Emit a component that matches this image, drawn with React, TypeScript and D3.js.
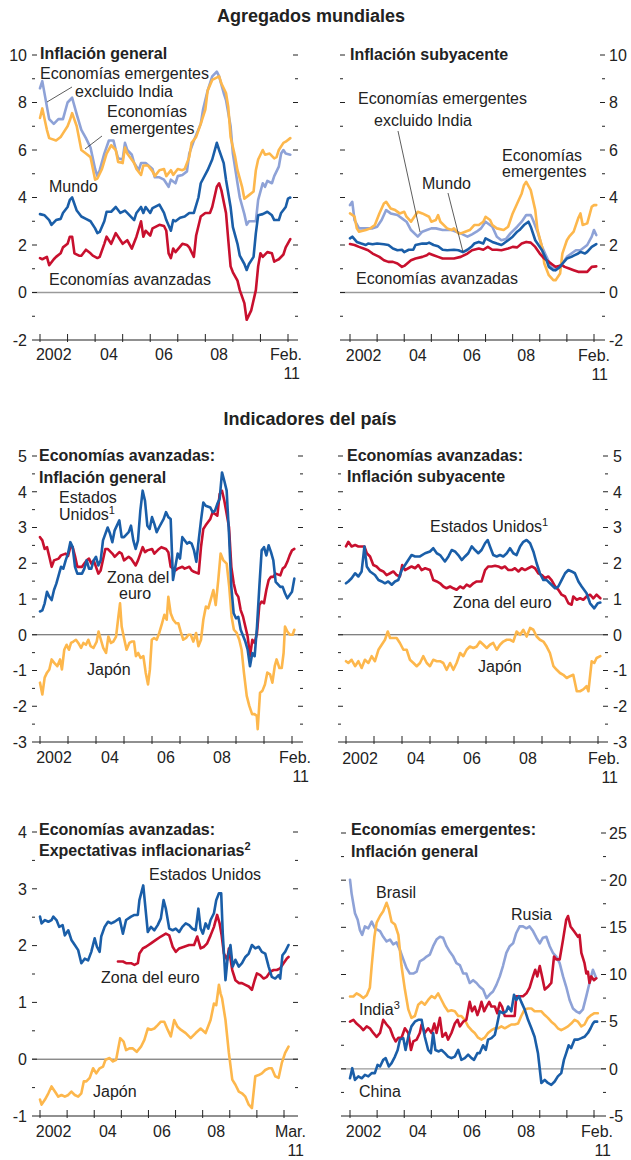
import React from 'react';
import * as d3 from 'd3';

type Pt = [number, number]; // [months since Jan 2002, value]

// ---------- Tick / axis labels ----------
const yearLabels: [number, string][] = [[6, '2002'], [30, '04'], [54, '06'], [78, '08']];
const yearTickMonths = [0, 12, 24, 36, 48, 60, 72, 84, 96, 108];

// ---------- Panel 1: Agregados mundiales, inflación general ----------
const genEmergExIndia: Pt[] = [[0,8.6],[1,8.9],[4,7.3],[6,7.1],[8,7.3],[10,7.3],[12,8.0],[14,8.2],[16,7.5],[18,6.85],[20,6.5],[22,6.1],[24,5.2],[25,4.9],[26,5.15],[28,5.85],[30,6.4],[32,6.4],[33,6.0],[34,5.65],[36,5.6],[37,6.3],[38,6.0],[40,5.8],[41,5.45],[43,5.15],[44,5.45],[46,5.45],[49,5.2],[50,4.85],[52,4.85],[54,4.75],[56,4.45],[57,4.75],[59,4.6],[60,4.9],[62,4.95],[64,5.1],[65,5.85],[67,6.4],[70,7.1],[71,7.7],[73,8.5],[75,9.1],[77,9.3],[78,9.1],[80,8.4],[81,8.1],[83,7.0],[84,5.85],[86,4.6],[87,4.0],[89,3.3],[90,2.85],[91,3.0],[94,3.0],[95,3.9],[97,4.6],[98,4.45],[99,4.7],[101,4.6],[102,4.9],[104,5.3],[105,5.85],[106,6.0],[107,5.85],[109,5.8]];
const genEmerg: Pt[] = [[0,7.35],[1,7.75],[3,6.85],[4,6.5],[7,6.4],[9,6.55],[10,6.7],[12,7.0],[13,7.25],[14,7.55],[16,7.0],[18,6.0],[20,5.85],[22,5.7],[24,4.75],[25,4.8],[27,5.2],[29,5.85],[31,6.2],[33,6.0],[34,5.5],[36,5.45],[37,6.1],[38,5.85],[41,5.45],[42,5.2],[44,4.95],[45,5.35],[47,5.35],[49,5.1],[50,4.9],[52,5.15],[54,5.2],[55,4.9],[57,5.15],[58,4.95],[60,5.2],[62,5.15],[63,5.2],[65,5.7],[66,6.3],[68,6.55],[70,7.1],[72,7.7],[73,8.5],[75,8.95],[78,9.1],[79,8.8],[81,8.4],[82,7.8],[83,6.55],[85,5.7],[86,5.15],[88,4.45],[89,3.95],[91,4.1],[93,4.25],[94,5.15],[95,5.6],[97,6.0],[98,5.8],[100,5.85],[102,5.65],[103,5.7],[104,6.0],[106,6.3],[107,6.35],[109,6.5]];
const genWorld: Pt[] = [[0,3.3],[2,3.25],[4,3.05],[5,2.85],[7,3.05],[9,3.1],[10,3.35],[12,3.6],[13,3.9],[14,4.0],[16,3.45],[18,3.2],[20,3.1],[22,3.0],[24,2.7],[25,2.5],[26,2.55],[28,3.0],[29,3.4],[31,3.4],[33,3.6],[35,3.35],[37,3.45],[38,3.35],[41,3.05],[42,3.35],[44,3.6],[45,3.35],[46,3.6],[48,3.35],[49,3.55],[52,3.7],[54,3.35],[55,3.05],[57,2.6],[58,3.05],[59,3.0],[61,3.15],[63,3.2],[65,3.35],[67,3.35],[69,4.0],[70,4.6],[73,5.15],[75,5.6],[77,6.3],[78,6.0],[80,5.45],[81,4.75],[83,3.6],[84,2.75],[86,2.05],[87,1.55],[89,1.2],[90,0.95],[91,1.2],[93,1.5],[94,2.5],[95,3.25],[97,3.3],[99,3.4],[101,3.25],[102,3.05],[104,3.05],[105,3.35],[107,3.6],[108,3.95],[109,4.0]];
const genAdvanced: Pt[] = [[0,1.45],[1,1.4],[3,1.5],[4,1.15],[6,1.4],[7,1.5],[9,1.65],[10,1.9],[12,2.05],[13,2.35],[14,2.35],[15,1.65],[17,1.55],[18,1.55],[20,1.8],[22,1.65],[23,1.55],[25,1.45],[26,1.5],[28,2.05],[29,2.35],[31,2.05],[33,2.5],[36,2.05],[38,2.2],[40,1.85],[42,2.35],[44,3.0],[45,2.35],[46,2.6],[48,2.4],[49,2.7],[52,2.85],[54,2.8],[55,2.6],[56,1.65],[57,1.45],[58,1.85],[59,1.7],[62,2.05],[64,2.0],[65,1.9],[67,1.5],[68,2.4],[70,3.2],[72,3.35],[74,3.35],[75,3.6],[77,4.45],[78,4.6],[79,4.3],[81,3.35],[82,2.2],[83,1.1],[84,0.85],[86,0.5],[87,0.1],[89,-0.45],[90,-1.15],[91,-0.95],[92,-0.75],[94,0.1],[95,1.1],[96,1.65],[97,1.5],[99,1.7],[101,1.65],[102,1.3],[103,1.35],[104,1.4],[106,1.6],[107,1.9],[109,2.25]];

// ---------- Panel 2: Agregados mundiales, inflación subyacente ----------
const coreEmergExIndia: Pt[] = [[0,3.68],[1,3.82],[2,3.05],[4,2.7],[5,2.7],[7,2.7],[10,2.7],[12,2.77],[14,3.05],[16,3.47],[18,3.33],[21,3.26],[23,3.12],[25,2.98],[27,2.63],[30,2.35],[32,2.56],[34,2.63],[36,2.7],[38,2.7],[41,2.63],[43,2.63],[45,2.63],[47,2.56],[49,2.49],[52,2.35],[54,2.45],[56,2.56],[58,2.7],[60,2.98],[63,2.77],[65,2.35],[67,2.2],[69,2.25],[71,2.49],[74,2.77],[76,2.98],[78,3.26],[80,3.26],[81,3.05],[83,2.56],[85,1.92],[87,1.5],[89,1.08],[91,0.94],[94,1.22],[96,1.5],[98,1.64],[100,1.78],[102,1.78],[105,2.0],[107,2.35],[108,2.63],[109,2.42]];
const coreEmerg: Pt[] = [[0,3.33],[2,3.2],[3,2.7],[4,2.56],[7,2.63],[9,2.7],[11,2.84],[13,3.33],[15,3.75],[16,3.82],[18,3.54],[20,3.47],[22,3.33],[24,3.4],[25,3.19],[27,2.98],[29,3.26],[30,3.4],[32,3.33],[35,3.19],[36,2.98],[38,3.05],[39,3.26],[40,2.98],[43,2.7],[45,2.63],[46,2.7],[48,2.49],[49,2.49],[51,2.56],[53,2.63],[55,2.84],[57,2.84],[59,2.98],[60,3.19],[62,3.05],[63,2.84],[65,2.7],[68,2.63],[70,2.77],[72,3.33],[74,3.75],[76,4.17],[77,4.52],[78,4.66],[80,4.31],[82,3.47],[83,2.63],[85,1.92],[86,1.22],[88,0.73],[90,0.52],[91,0.52],[93,0.8],[94,1.64],[96,2.2],[97,2.35],[99,2.56],[101,3.12],[102,3.33],[103,2.84],[105,2.91],[106,3.26],[107,3.61],[108,3.68],[109,3.68]];
const coreWorld: Pt[] = [[0,2.28],[1,2.35],[3,2.13],[5,2.06],[7,2.0],[8,2.06],[10,2.03],[12,2.06],[15,2.03],[17,2.0],[19,1.85],[21,1.78],[23,1.8],[24,1.7],[26,1.8],[28,1.8],[29,2.0],[32,2.06],[34,2.06],[35,2.1],[37,2.0],[39,1.95],[41,1.8],[43,1.78],[46,1.8],[48,1.78],[50,1.7],[52,1.8],[54,1.95],[55,2.06],[57,2.13],[59,2.06],[60,2.28],[63,2.13],[65,2.06],[67,2.0],[68,2.06],[70,2.2],[72,2.35],[74,2.56],[75,2.63],[77,2.84],[79,2.98],[80,2.77],[82,2.2],[85,1.78],[87,1.36],[88,1.08],[90,0.94],[91,0.94],[93,1.08],[94,1.22],[96,1.43],[98,1.5],[99,1.55],[101,1.64],[102,1.71],[104,1.64],[105,1.71],[107,1.92],[109,2.04]];
const coreAdvanced: Pt[] = [[0,2.04],[2,2.0],[4,1.92],[6,1.85],[8,1.78],[10,1.64],[13,1.5],[15,1.36],[17,1.29],[19,1.29],[21,1.22],[23,1.08],[24,1.12],[27,1.36],[29,1.43],[32,1.5],[34,1.57],[35,1.64],[37,1.57],[39,1.5],[41,1.43],[43,1.43],[46,1.43],[49,1.5],[52,1.64],[54,1.78],[57,1.85],[59,1.8],[61,1.92],[63,1.8],[65,1.8],[67,1.78],[70,1.85],[72,1.92],[74,1.9],[76,2.06],[78,2.13],[80,2.1],[82,1.92],[84,1.64],[86,1.43],[88,1.29],[90,1.15],[91,1.08],[94,1.15],[95,1.08],[97,1.01],[99,0.94],[101,0.87],[103,0.87],[105,0.87],[107,1.08],[109,1.1]];

// ---------- Panel 3: Economías avanzadas, inflación general ----------
const advGenUS: Pt[] = [[0,0.65],[1,0.68],[2,0.88],[3,1.2],[4,1.06],[5,0.97],[6,1.25],[7,1.43],[9,1.9],[10,1.85],[11,2.08],[12,2.27],[13,2.59],[14,2.45],[15,1.9],[16,1.71],[18,1.71],[19,1.85],[20,2.08],[21,1.85],[22,1.85],[23,2.08],[24,2.18],[25,1.94],[26,2.08],[27,2.64],[29,3.0],[30,2.83],[31,2.59],[32,2.92],[34,3.2],[35,2.73],[36,2.73],[38,2.87],[39,3.05],[40,2.64],[41,2.4],[42,2.64],[43,3.47],[44,4.03],[45,3.75],[46,3.05],[47,2.96],[48,3.29],[49,3.1],[50,2.87],[51,3.0],[53,3.24],[54,3.43],[55,3.29],[56,3.24],[57,1.53],[58,1.9],[59,2.27],[60,2.13],[61,2.73],[63,2.55],[64,2.59],[65,2.55],[66,2.36],[67,2.04],[68,2.64],[69,3.2],[70,3.7],[71,3.61],[73,3.56],[74,3.43],[75,3.47],[76,3.66],[77,3.8],[78,4.54],[79,4.3],[80,4.03],[81,2.82],[82,1.34],[83,0.6],[84,0.46],[85,0.5],[86,0.14],[88,-0.19],[89,-0.42],[90,-0.88],[91,-0.51],[92,-0.6],[93,0.23],[94,1.34],[95,2.36],[96,2.45],[97,2.22],[98,2.5],[99,2.31],[100,2.08],[101,1.48],[103,1.34],[104,1.34],[105,1.16],[106,1.02],[107,1.11],[108,1.2],[109,1.57]];
const advGenEuro: Pt[] = [[0,2.73],[1,2.64],[2,2.4],[3,2.45],[4,2.18],[5,1.9],[6,2.08],[8,2.13],[9,2.22],[11,2.27],[12,2.2],[13,2.45],[14,2.45],[15,2.2],[16,1.9],[18,1.9],[19,1.99],[20,2.08],[21,2.13],[22,1.99],[23,2.08],[24,1.9],[25,1.71],[26,1.8],[28,2.4],[29,2.4],[31,2.27],[32,2.18],[34,2.31],[35,2.27],[36,2.08],[38,2.18],[39,2.13],[41,1.94],[42,2.08],[44,2.45],[45,2.31],[46,2.36],[48,2.4],[49,2.27],[51,2.4],[52,2.45],[54,2.4],[55,2.31],[56,1.9],[58,1.8],[59,1.85],[61,1.9],[62,1.85],[64,1.9],[65,1.8],[66,1.76],[68,1.71],[69,2.45],[70,2.96],[71,3.06],[73,3.24],[74,3.43],[76,3.33],[77,3.94],[78,4.03],[79,3.75],[81,3.01],[82,1.9],[83,1.44],[84,1.16],[85,1.06],[86,0.69],[87,0.51],[89,-0.05],[90,-0.6],[91,-0.14],[92,-0.23],[93,0.05],[94,0.83],[95,0.93],[96,0.88],[97,1.25],[98,1.53],[99,1.62],[100,1.62],[101,1.71],[103,1.66],[104,1.85],[105,1.9],[106,2.04],[107,2.22],[108,2.36],[109,2.4]];
const advGenJapan: Pt[] = [[0,-1.34],[1,-1.67],[2,-1.2],[3,-1.06],[4,-0.97],[5,-0.69],[6,-0.78],[7.4,-0.88],[8.6,-0.69],[9.4,-0.97],[10.4,-0.42],[11.4,-0.28],[12.4,-0.42],[13.3,-0.23],[14.3,-0.19],[15.4,-0.14],[16.4,-0.23],[17.6,-0.37],[18.6,-0.23],[19.7,-0.28],[20.7,-0.14],[21.7,-0.32],[22.9,-0.37],[24.3,-0.19],[25.1,0.09],[26.1,-0.14],[27.1,-0.37],[28.3,-0.51],[29.3,-0.05],[30.4,-0.23],[31.4,-0.19],[32.6,-0.05],[33.6,0.51],[34.3,0.88],[35,0.23],[36,-0.09],[37.1,-0.42],[38.3,-0.23],[39.3,-0.19],[40.3,-0.19],[41.1,-0.6],[42.1,-0.51],[43.1,-0.65],[44.3,-0.6],[45.3,-1.06],[46.3,-1.39],[47.1,-0.97],[47.9,-0.14],[48.9,-0.09],[50,-0.14],[51.1,0.05],[52.3,0.32],[53.3,0.56],[54.3,0.42],[55,1.06],[56,0.6],[57.1,0.42],[58.3,0.32],[59.3,0.32],[60.3,0.09],[61.4,-0.14],[62.6,-0.09],[63.6,0.0],[64.6,0.0],[65.7,-0.19],[66.9,0.05],[67.9,-0.32],[69,-0.14],[70,0.42],[71.1,0.79],[72.1,0.74],[73.1,0.97],[74.3,1.25],[75.3,0.83],[76.4,1.53],[77.4,2.27],[78.6,2.08],[80,1.99],[81.1,1.34],[82.1,0.51],[83.1,0.14],[84.3,0.05],[85.4,-0.14],[86.4,-0.42],[87.4,-1.06],[88.6,-1.71],[89.7,-1.99],[90.9,-2.22],[91.9,-2.22],[92.9,-2.27],[93.3,-2.64],[94.3,-1.62],[95.3,-1.57],[96.4,-1.39],[97.4,-1.06],[98.6,-1.11],[99.6,-1.34],[100.6,-0.88],[101.4,-0.69],[102.6,-0.93],[103.6,-0.93],[104.4,-0.51],[105,0.23],[106,0.09],[107.1,0.0],[108.3,0.0],[109,0.14]];

// ---------- Panel 4: Economías avanzadas, inflación subyacente ----------
const advCoreUS: Pt[] = [[0,1.44],[1,1.49],[2.4,1.58],[3.9,1.72],[5.3,1.63],[6.7,1.77],[7.9,2.47],[8.9,1.91],[10.3,1.77],[12.4,1.67],[13.9,1.53],[15.3,1.49],[16.7,1.44],[18.1,1.49],[19.6,1.4],[21,1.49],[22.4,1.53],[23.9,1.81],[25.3,1.95],[26.7,2.09],[28.1,2.23],[29.6,2.19],[31.7,2.19],[33.9,2.28],[36,2.33],[37.4,2.42],[38.9,2.28],[40.3,2.23],[42.4,2.05],[43.9,2.19],[45.3,2.37],[46.7,2.33],[48.1,2.23],[49.6,2.09],[51,2.19],[52.4,2.28],[53.9,2.47],[55.3,2.37],[56.7,2.28],[58.1,2.37],[59.6,2.56],[60.7,2.65],[61.7,2.47],[63.1,2.23],[64.6,2.19],[66,2.23],[67.4,2.19],[68.9,2.28],[70.3,2.42],[71.7,2.28],[73.1,2.23],[74.6,2.47],[76,2.6],[77.4,2.65],[78.9,2.56],[80.3,2.33],[81.7,2.0],[83.1,1.72],[84.6,1.53],[86,1.53],[87.4,1.44],[89.6,1.3],[91,1.35],[92.4,1.53],[93.9,1.72],[95.3,1.81],[96.7,1.77],[98.1,1.72],[99.6,1.49],[101,1.35],[103.1,1.16],[104.6,0.88],[106.4,0.74],[107.9,0.88],[109,0.9]];
const advCoreEuro: Pt[] = [[0,2.47],[1,2.6],[2.4,2.47],[3.9,2.51],[5.3,2.47],[6.7,2.47],[7.9,2.47],[8.9,2.28],[10.3,2.19],[11.7,1.95],[13.1,1.91],[14.6,1.81],[16,1.77],[17.4,1.67],[18.9,1.72],[20.3,1.77],[21.7,1.67],[23.1,1.63],[24.1,1.95],[25.3,1.81],[26.7,1.86],[28.1,1.91],[29.6,1.86],[31,1.95],[32.4,1.81],[33.9,1.86],[36,1.81],[37.4,1.53],[38.9,1.49],[40.3,1.44],[41.7,1.35],[43.1,1.3],[44.6,1.35],[46,1.3],[47.4,1.26],[48.9,1.35],[50.3,1.3],[51.7,1.4],[53.1,1.35],[54.6,1.44],[56,1.49],[58.1,1.49],[59.6,1.81],[61,1.91],[62.4,1.91],[63.9,1.93],[65.3,1.91],[66.7,1.86],[68.1,1.91],[69.6,1.81],[71,1.81],[72.4,1.86],[73.9,1.77],[75.3,1.86],[76.7,1.81],[78.1,1.86],[79.6,1.91],[81,1.86],[82.4,1.72],[83.9,1.67],[85.3,1.58],[86.7,1.63],[88.1,1.53],[89.6,1.35],[91,1.26],[92.4,1.12],[93.9,1.07],[95.3,0.88],[96.7,0.84],[97.4,1.07],[98.9,0.98],[100.3,1.02],[101.7,0.98],[103.1,1.07],[104.6,1.12],[106,1.02],[107.4,1.12],[109,1.02]];
const advCoreJapan: Pt[] = [[0,-0.74],[1,-0.79],[2.4,-0.7],[3.9,-0.88],[5.3,-0.74],[6.7,-0.93],[8.1,-0.7],[9.6,-0.79],[11,-0.6],[12.4,-0.74],[13.9,-0.42],[15.3,-0.28],[16.7,-0.14],[17.9,0.09],[18.9,-0.09],[20.3,-0.09],[21.7,-0.09],[23.1,-0.23],[24.6,-0.42],[26,-0.42],[27.4,-0.7],[28.9,-0.79],[30.3,-0.88],[31.7,-0.79],[33.1,-0.6],[34.6,-0.79],[36,-0.88],[37.4,-0.7],[38.9,-0.74],[40.3,-0.74],[41.7,-0.79],[43.1,-0.98],[44.6,-0.79],[46,-0.98],[47.4,-0.79],[48.9,-0.51],[50.3,-0.6],[51.7,-0.42],[53.1,-0.33],[54.6,-0.37],[56,-0.33],[57.4,-0.19],[58.9,-0.28],[60.3,-0.37],[61.7,-0.28],[63.1,-0.23],[64.6,-0.42],[66,-0.28],[67.4,-0.19],[68.9,-0.14],[70.3,-0.14],[71.7,-0.19],[73.1,0.09],[74.6,0.0],[76,0.14],[77.4,-0.05],[78.9,0.19],[80.3,0.14],[81.7,-0.05],[83.1,-0.14],[84.6,-0.19],[86,-0.33],[87.4,-0.51],[88.9,-0.88],[90.3,-0.98],[91.7,-1.07],[93.1,-1.12],[94.6,-1.21],[96,-1.16],[97.4,-1.12],[98.9,-1.58],[100.3,-1.58],[101.7,-1.53],[103.1,-1.44],[103.9,-1.58],[105.3,-0.74],[106.4,-0.79],[107.4,-0.65],[109,-0.6]];

// ---------- Panel 5: Expectativas inflacionarias ----------
const expUS: Pt[] = [[0,2.51],[0.7,2.39],[2.2,2.45],[3.7,2.42],[5.1,2.45],[5.9,2.51],[7.3,2.45],[8.5,2.33],[10,2.36],[11,2.18],[12.5,2.27],[13.9,2.1],[15.4,2.01],[16.9,1.92],[18.3,1.69],[19.8,1.77],[21.3,1.74],[22.7,1.89],[24.2,2.13],[25.2,1.98],[26.4,1.89],[27.1,2.16],[28.6,2.33],[30.1,2.42],[31.5,2.39],[33,2.42],[35.2,2.48],[36.7,2.21],[38.1,2.45],[40.3,2.51],[41.8,2.54],[43.3,2.54],[44,2.8],[45.7,3.06],[47.7,2.24],[49.1,2.33],[50.6,2.27],[52.1,2.36],[53.5,2.48],[54.7,2.8],[55.7,2.65],[57.2,2.3],[58.7,2.27],[60.1,2.3],[61.6,2.24],[63,2.33],[64.5,2.39],[66,2.36],[67.4,2.3],[68.9,2.27],[70.1,2.65],[71.1,2.3],[72.1,2.21],[73.3,2.39],[74.5,2.3],[75.5,2.45],[77,2.57],[78,2.8],[79.2,2.92],[80.2,2.92],[80.9,2.21],[82.1,1.39],[83.1,1.8],[84.3,2.01],[85.3,1.63],[86.5,1.75],[88,1.63],[89.4,1.69],[90.9,1.8],[92.4,1.86],[93.8,2.01],[95.3,1.95],[96.8,1.98],[98.2,1.89],[99.7,1.86],[101.2,1.63],[102.6,1.45],[104.1,1.42],[105.6,1.48],[106.3,1.42],[107.3,1.83],[108.5,1.89],[110,2.01]];
const expEuro: Pt[] = [[34.5,1.72],[36.7,1.72],[38.1,1.69],[40.3,1.69],[41.8,1.66],[43.3,1.69],[44,1.86],[45.5,1.95],[46.9,1.98],[49.1,2.04],[51.3,2.1],[53.5,2.16],[55.7,2.21],[57.2,2.18],[58.7,1.98],[60.1,1.89],[61.6,1.95],[63.8,1.98],[66,2.01],[68.2,2.01],[69.6,2.16],[71.1,1.95],[72.6,1.98],[74,2.04],[75.5,2.18],[77,2.33],[78.4,2.54],[79.5,2.39],[80.4,2.18],[81.4,1.86],[82.9,1.75],[83.6,1.95],[85.1,1.57],[86.5,1.39],[88,1.34],[89.4,1.34],[90.9,1.31],[92.4,1.28],[93.8,1.22],[95,1.39],[96,1.51],[97.5,1.48],[99,1.42],[100.4,1.45],[101.9,1.54],[103.4,1.57],[104.8,1.57],[106.3,1.6],[107.8,1.69],[109.2,1.77],[110,1.8]];
const expJapan: Pt[] = [[0,-0.71],[0.7,-0.8],[2.2,-0.71],[3.7,-0.6],[5.1,-0.48],[6.6,-0.57],[8.1,-0.66],[9.5,-0.63],[11,-0.66],[12.5,-0.63],[13.9,-0.57],[15.4,-0.63],[16.9,-0.66],[18.3,-0.6],[19.4,-0.39],[20.5,-0.39],[22,-0.33],[23.5,-0.16],[24.9,-0.25],[26.4,-0.16],[27.9,-0.13],[29,-0.01],[30.8,0.02],[32.3,-0.04],[33.7,-0.01],[34.5,0.16],[35.5,0.37],[37,0.31],[38.1,0.16],[39.6,0.19],[41.1,0.19],[42.8,0.13],[44.7,0.22],[46.2,0.34],[47.7,0.54],[49.1,0.52],[50.6,0.54],[52.1,0.6],[53.5,0.66],[55,0.66],[56.5,0.52],[57.9,0.4],[59.4,0.69],[60.9,0.57],[62.3,0.52],[64.5,0.46],[66.7,0.37],[68.9,0.46],[71.1,0.54],[73.3,0.46],[75.5,0.69],[77,0.98],[78,0.95],[79.2,1.31],[79.9,1.16],[80.6,1.07],[82.1,0.69],[83.6,0.11],[85.1,-0.36],[86.5,-0.45],[88,-0.57],[89.4,-0.6],[90.9,-0.66],[92.4,-0.8],[93.8,-0.86],[95.3,-0.3],[96.8,-0.28],[98.2,-0.25],[99.7,-0.19],[101.2,-0.16],[102.6,-0.16],[104.1,-0.3],[105.6,-0.33],[107,-0.07],[108.5,0.11],[110,0.22]];

// ---------- Panel 6: Economías emergentes, inflación general ----------
const emRussia: Pt[] = [[0,20.05],[0.7,18.6],[2.2,16.5],[3.4,15.8],[4.4,14.7],[5.4,14.2],[6.6,15.1],[8.1,14.9],[9.6,15.6],[11,14.9],[13.3,14.6],[14.7,14.0],[16.2,13.5],[17.7,13.7],[19.1,13.2],[20.6,13.4],[22.1,12.6],[23.6,11.6],[25,10.7],[26.5,10.1],[28,10.1],[29.5,10.3],[30.9,11.4],[32.4,11.6],[33.9,11.9],[35.3,12.1],[36.8,13.0],[38.3,13.7],[39.8,14.0],[41.2,13.9],[42.7,13.0],[44.2,12.4],[45.7,11.9],[47.1,11.2],[48.6,11.0],[50.1,10.1],[51.5,10.1],[53,9.1],[54.5,9.4],[56,9.1],[57.4,8.7],[58.9,8.4],[60.4,7.5],[61.9,7.9],[63.3,8.2],[64.8,8.9],[66.3,9.8],[67.7,10.9],[69.2,12.3],[70.7,13.0],[72.2,13.3],[73.6,14.4],[75.1,15.1],[76.6,15.1],[78.1,14.9],[79.5,15.1],[81,14.6],[82.5,13.9],[84,13.3],[85.4,13.9],[86.9,14.0],[88.4,13.0],[89.8,12.3],[91.3,11.9],[92.8,11.2],[94.3,9.8],[95.7,8.7],[97.2,7.3],[98.7,6.4],[100.1,6.1],[101.6,5.9],[103.1,6.3],[104.6,7.7],[106,9.1],[107.5,10.5],[109,9.6]];
const emBrazil: Pt[] = [[0,7.67],[1.5,7.67],[2.9,8.0],[4.4,7.8],[5.9,7.5],[7.4,7.8],[8.8,8.6],[9.6,10.9],[10.8,14.0],[11.8,15.5],[13.3,16.2],[14.7,16.7],[16.2,17.6],[17.2,16.9],[18.4,15.6],[19.9,15.3],[21.4,14.2],[22.8,10.9],[24.3,8.4],[25.8,6.3],[27.2,5.4],[28.7,5.6],[30.2,6.8],[31.7,7.1],[33.1,6.8],[34.6,7.3],[36.1,7.7],[37.6,7.5],[39,8.0],[40.5,7.3],[42,6.6],[43.4,6.1],[44.9,6.2],[46.4,6.1],[47.9,5.6],[49.3,5.6],[50.8,5.2],[52.3,4.5],[53.8,4.1],[55.2,3.8],[56.7,3.3],[58.2,3.1],[59.6,3.3],[61.1,3.8],[62.6,4.1],[64.1,4.3],[65.5,4.3],[67,4.5],[68.5,4.3],[70,4.5],[71.4,4.7],[72.9,4.7],[74.4,4.8],[75.8,5.6],[77.3,6.3],[78.8,6.4],[80.3,6.4],[81.7,6.1],[83.2,6.1],[84.7,6.1],[86.2,5.7],[87.6,5.4],[89.1,5.0],[90.6,4.7],[92,4.3],[93.5,4.1],[95,4.3],[96.5,4.5],[97.9,4.8],[99.4,5.2],[100.9,5.0],[102.4,4.5],[103.8,4.7],[105.3,5.4],[106.8,5.7],[108.2,5.9],[109.7,5.9]];
const emIndia: Pt[] = [[0,5.0],[1.5,5.2],[2.9,4.8],[4.4,4.5],[5.9,4.1],[7.4,4.5],[8.8,4.3],[10.3,3.8],[11.8,3.4],[13.3,3.8],[14.7,5.2],[16.2,4.7],[17.7,4.3],[19.1,3.4],[20.2,2.9],[21.4,3.3],[22.8,3.3],[24.3,4.3],[25.8,3.8],[27,2.0],[28,2.9],[29.5,3.1],[30.9,3.8],[31.7,4.7],[33.1,3.8],[34.6,4.3],[36.1,3.8],[37.3,4.8],[38.3,3.8],[39.8,5.4],[40.9,3.4],[42.4,3.8],[43.4,3.1],[44.9,3.8],[46.4,4.8],[47.6,5.2],[48.6,4.5],[50.1,5.0],[51.5,5.2],[53,7.1],[54,6.1],[55.2,6.6],[56.4,5.7],[57.4,6.4],[58.2,7.1],[59.4,6.1],[60.4,6.6],[61.6,7.1],[62.6,6.6],[64.1,6.6],[65.2,5.9],[66.3,7.0],[67.3,6.6],[68.5,5.6],[70,5.6],[71.4,5.6],[72.9,5.6],[73.6,7.7],[75.1,7.7],[76.6,7.7],[78.1,8.0],[79.5,8.6],[81,9.8],[82,10.5],[82.9,9.8],[84,10.9],[85,9.8],[86.2,8.4],[87.6,8.7],[89.1,9.1],[90.3,11.9],[91.3,11.6],[92.8,11.6],[94.3,13.7],[95.7,15.8],[96.5,16.2],[97.6,15.1],[99.1,14.6],[100.9,14.0],[101.6,14.2],[102.4,12.3],[103.8,11.2],[104.6,10.1],[105.3,10.3],[106,9.1],[106.8,9.8],[108,9.4],[109,9.6]];
const emChina: Pt[] = [[0,-1.0],[1,0.07],[2.2,-1.17],[3.7,-0.8],[5.2,-1.0],[6.6,-0.64],[8.1,-0.8],[9.6,-0.46],[11,-0.46],[12.2,0.42],[13.3,0.25],[14.7,0.95],[15.8,1.13],[17.2,0.25],[18.4,0.6],[19.9,1.3],[21.1,2.0],[22.1,3.1],[23.6,3.25],[24.6,2.0],[25.8,3.4],[27.2,4.5],[28.7,5.0],[30.2,5.2],[31.7,5.2],[33.1,3.4],[34.6,2.0],[35.8,1.66],[36.8,3.8],[37.8,2.0],[39.3,1.84],[40.5,2.0],[42,1.66],[43.4,1.3],[44.9,1.13],[46.4,1.3],[47.9,2.0],[49.3,0.95],[50.8,1.13],[52.3,1.5],[53.8,1.13],[54.9,0.95],[56.4,1.66],[57.4,1.66],[58.9,2.5],[60.1,2.0],[61.1,3.1],[62.6,3.25],[64.1,3.6],[65.2,4.8],[66.3,6.1],[67.7,5.9],[69.2,6.1],[70,6.6],[71.4,6.1],[72.6,7.85],[73.6,7.3],[74.8,7.7],[75.8,7.1],[77.3,6.3],[78.8,5.2],[80.3,4.3],[81.7,3.4],[83.2,1.66],[84.7,-1.5],[86.2,-1.17],[87.6,-1.5],[89.1,-1.7],[90.6,-1.34],[92,-0.8],[93.5,-0.46],[94.7,0.95],[95.7,1.66],[96.8,2.5],[97.9,2.2],[99.4,3.1],[100.9,3.1],[102.4,3.25],[103.8,3.4],[105.3,3.8],[106.5,4.3],[107.5,4.8],[108.2,5.0],[109.4,5.0]];

// ---------- Styles ----------
const DARK_BLUE = '#1a5ea8';
const RED = '#c8102e';
const ORANGE = '#fdb74c';
const LIGHT_BLUE = '#8ea2d7';
const FONT = "'Liberation Sans', Arial, sans-serif";

type Ann = { x: number; y: number; t: string; sup?: string; bold?: boolean };
type Leader = [number, number, number, number];
type PanelSpec = {
  x2002: number; x2011: number; axL: number; axR: number;
  yTop: number; yBot: number; yMin: number; yMax: number;
  labelStep: number; minorStep: number; side: 'left' | 'right'; labelX: number;
  endLabel: string; endX: number; xLabY: number; zeroColor: string; zeroWidth: number;
  series: { data: Pt[]; color: string }[];
  texts: Ann[]; leaders: Leader[];
};

const panels: PanelSpec[] = [
  {
    x2002: 40, x2011: 288, axL: 32, axR: 298, yTop: 55, yBot: 340, yMin: -2, yMax: 10,
    labelStep: 2, minorStep: 1, side: 'left', labelX: 27, endLabel: 'Feb.', endX: 302, xLabY: 360,
    zeroColor: '#9a9a9a', zeroWidth: 1.4,
    series: [
      { data: genEmergExIndia, color: LIGHT_BLUE }, { data: genEmerg, color: ORANGE },
      { data: genWorld, color: DARK_BLUE }, { data: genAdvanced, color: RED },
    ],
    texts: [
      { x: 40, y: 59, t: 'Inflación general', bold: true },
      { x: 40, y: 79, t: 'Economías emergentes' },
      { x: 75, y: 97, t: 'excluido India' },
      { x: 107, y: 117, t: 'Economías' },
      { x: 110, y: 134, t: 'emergentes' },
      { x: 49, y: 192, t: 'Mundo' },
      { x: 49, y: 285, t: 'Economías avanzadas' },
    ],
    leaders: [[72, 87, 47, 102], [102, 136, 85, 149]],
  },
  {
    x2002: 350, x2011: 594, axL: 340, axR: 605, yTop: 55, yBot: 340, yMin: -2, yMax: 10,
    labelStep: 2, minorStep: 1, side: 'right', labelX: 609, endLabel: 'Feb.', endX: 610, xLabY: 361,
    zeroColor: '#9a9a9a', zeroWidth: 1.4,
    series: [
      { data: coreEmergExIndia, color: LIGHT_BLUE }, { data: coreEmerg, color: ORANGE },
      { data: coreAdvanced, color: RED }, { data: coreWorld, color: DARK_BLUE },
    ],
    texts: [
      { x: 350, y: 60, t: 'Inflación subyacente', bold: true },
      { x: 358, y: 104, t: 'Economías emergentes' },
      { x: 374, y: 126, t: 'excluido India' },
      { x: 502, y: 161, t: 'Economías' },
      { x: 502, y: 177, t: 'emergentes' },
      { x: 422, y: 189, t: 'Mundo' },
      { x: 356, y: 284, t: 'Economías avanzadas' },
    ],
    leaders: [[398, 131, 420, 232], [448, 193, 463, 252]],
  },
  {
    x2002: 40, x2011: 292, axL: 32, axR: 303, yTop: 456, yBot: 742, yMin: -3, yMax: 5,
    labelStep: 1, minorStep: 0.5, side: 'left', labelX: 27, endLabel: 'Feb.', endX: 311, xLabY: 763,
    zeroColor: '#444', zeroWidth: 0.9,
    series: [
      { data: advGenJapan, color: ORANGE }, { data: advGenEuro, color: RED }, { data: advGenUS, color: DARK_BLUE },
    ],
    texts: [
      { x: 39, y: 461, t: 'Economías avanzadas:', bold: true },
      { x: 39, y: 483, t: 'Inflación general', bold: true },
      { x: 59, y: 503, t: 'Estados' },
      { x: 59, y: 520, t: 'Unidos', sup: '1' },
      { x: 107, y: 583, t: 'Zona del' },
      { x: 119, y: 599, t: 'euro' },
      { x: 87, y: 675, t: 'Japón' },
    ],
    leaders: [],
  },
  {
    x2002: 346, x2011: 598, axL: 338, axR: 608, yTop: 456, yBot: 742, yMin: -3, yMax: 5,
    labelStep: 1, minorStep: 0.5, side: 'right', labelX: 613, endLabel: 'Feb.', endX: 620, xLabY: 764,
    zeroColor: '#444', zeroWidth: 0.9,
    series: [
      { data: advCoreJapan, color: ORANGE }, { data: advCoreEuro, color: RED }, { data: advCoreUS, color: DARK_BLUE },
    ],
    texts: [
      { x: 347, y: 461, t: 'Economías avanzadas:', bold: true },
      { x: 347, y: 482, t: 'Inflación subyacente', bold: true },
      { x: 430, y: 532, t: 'Estados Unidos', sup: '1' },
      { x: 453, y: 608, t: 'Zona del euro' },
      { x: 478, y: 672, t: 'Japón' },
    ],
    leaders: [],
  },
  {
    x2002: 40, x2011: 284, axL: 32, axR: 298, yTop: 832, yBot: 1116, yMin: -1, yMax: 4,
    labelStep: 1, minorStep: 0.5, side: 'left', labelX: 27, endLabel: 'Mar.', endX: 306, xLabY: 1137,
    zeroColor: '#444', zeroWidth: 0.9,
    series: [
      { data: expJapan, color: ORANGE }, { data: expEuro, color: RED }, { data: expUS, color: DARK_BLUE },
    ],
    texts: [
      { x: 39, y: 835, t: 'Economías avanzadas:', bold: true },
      { x: 39, y: 856, t: 'Expectativas inflacionarias', sup: '2', bold: true },
      { x: 149, y: 880, t: 'Estados Unidos' },
      { x: 101, y: 983, t: 'Zona del euro' },
      { x: 93, y: 1097, t: 'Japón' },
    ],
    leaders: [],
  },
  {
    x2002: 350, x2011: 594, axL: 341, axR: 606, yTop: 833, yBot: 1116, yMin: -5, yMax: 25,
    labelStep: 5, minorStep: 2.5, side: 'right', labelX: 609, endLabel: 'Feb.', endX: 613, xLabY: 1137,
    zeroColor: '#9a9a9a', zeroWidth: 1.4,
    series: [
      { data: emRussia, color: LIGHT_BLUE }, { data: emBrazil, color: ORANGE },
      { data: emIndia, color: RED }, { data: emChina, color: DARK_BLUE },
    ],
    texts: [
      { x: 351, y: 835, t: 'Economías emergentes:', bold: true },
      { x: 351, y: 857, t: 'Inflación general', bold: true },
      { x: 376, y: 898, t: 'Brasil' },
      { x: 511, y: 920, t: 'Rusia' },
      { x: 359, y: 1015, t: 'India', sup: '3' },
      { x: 359, y: 1097, t: 'China' },
    ],
    leaders: [],
  },
];

function Panel({ p }: { p: PanelSpec }) {
  const x = d3.scaleLinear().domain([0, 108]).range([p.x2002, p.x2011]);
  const y = d3.scaleLinear().domain([p.yMin, p.yMax]).range([p.yBot, p.yTop]);
  const line = d3.line<Pt>().x((d) => x(d[0])).y((d) => y(d[1]));
  const ticks = d3.range(p.yMin, p.yMax + 1e-9, p.minorStep);
  const isMajor = (v: number) => Math.abs(v / p.labelStep - Math.round(v / p.labelStep)) < 1e-6;
  return (
    <g>
      <line x1={p.axL} x2={p.axR} y1={y(0)} y2={y(0)} stroke={p.zeroColor} strokeWidth={p.zeroWidth} />
      {ticks.filter((v) => v > p.yMin + 1e-9).map((v) => {
        const len = isMajor(v) ? 5 : 3;
        return (
          <g key={'t' + v}>
            <line x1={p.axL} x2={p.axL + len} y1={y(v)} y2={y(v)} stroke="#222" strokeWidth={1} />
            <line x1={p.axR - len} x2={p.axR} y1={y(v)} y2={y(v)} stroke="#222" strokeWidth={1} />
          </g>
        );
      })}
      {ticks.filter(isMajor).map((v) => (
        <text key={'l' + v} x={p.labelX} y={y(v)} dy="0.36em" fontSize={16} fontFamily={FONT}
          fill="#222" textAnchor={p.side === 'left' ? 'end' : 'start'}>{String(v)}</text>
      ))}
      {p.series.map((s, i) => (
        <path key={'s' + i} d={line(s.data) || ''} fill="none" stroke={s.color} strokeWidth={2.6}
          strokeLinejoin="round" strokeLinecap="round" />
      ))}
      <line x1={p.axL} x2={p.axR} y1={p.yBot} y2={p.yBot} stroke="#222" strokeWidth={1.2} />
      {yearTickMonths.map((m) => (
        <line key={'xt' + m} x1={x(m)} x2={x(m)} y1={p.yBot - 6} y2={p.yBot + 2} stroke="#222" strokeWidth={1} />
      ))}
      {yearLabels.map(([m, t]) => (
        <text key={'xl' + m} x={x(m)} y={p.xLabY} textAnchor="middle" fontSize={16} fontFamily={FONT} fill="#222">{t}</text>
      ))}
      <text x={p.endX} y={p.xLabY} textAnchor="end" fontSize={16} fontFamily={FONT} fill="#222">{p.endLabel}</text>
      <text x={p.endX - 2} y={p.xLabY + 19} textAnchor="end" fontSize={16} fontFamily={FONT} fill="#222">11</text>
      {p.leaders.map((l, i) => (
        <line key={'ld' + i} x1={l[0]} y1={l[1]} x2={l[2]} y2={l[3]} stroke="#333" strokeWidth={0.8} />
      ))}
      {p.texts.map((a, i) => (
        <text key={'a' + i} x={a.x} y={a.y} fontSize={16} fontFamily={FONT} fill="#222"
          fontWeight={a.bold ? 'bold' : 'normal'}>
          {a.t}
          {a.sup ? <tspan dy={-6} fontSize={11}>{a.sup}</tspan> : null}
        </text>
      ))}
    </g>
  );
}

export default function App() {
  return (
    <svg width={631} height={1160} style={{ position: 'absolute', left: 0, top: 0, background: '#fff' }}>
      <rect x={0} y={0} width={631} height={1160} fill="#fff" />
      <text x={311} y={22} textAnchor="middle" fontSize={18} fontWeight="bold" fontFamily={FONT} fill="#222">Agregados mundiales</text>
      <text x={310} y={425} textAnchor="middle" fontSize={18} fontWeight="bold" fontFamily={FONT} fill="#222">Indicadores del país</text>
      {panels.map((p, i) => <Panel key={i} p={p} />)}
    </svg>
  );
}
